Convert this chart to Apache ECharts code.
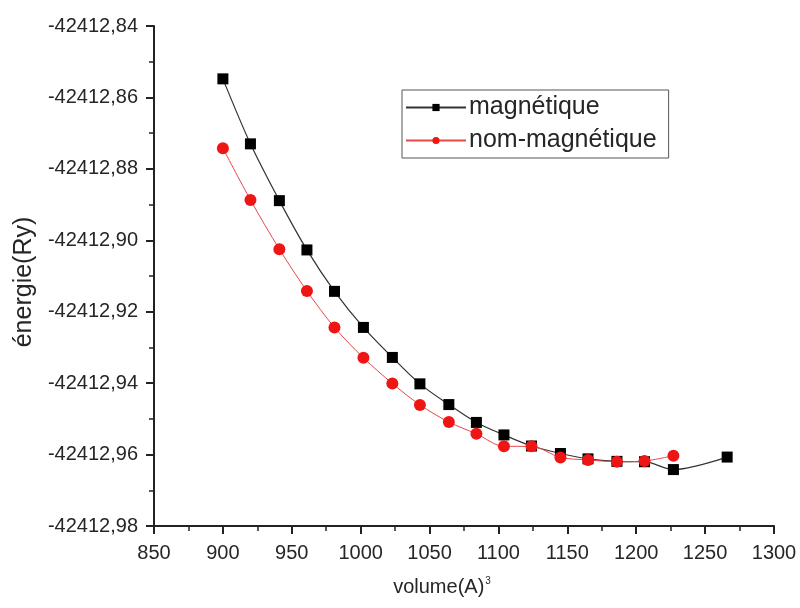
<!DOCTYPE html>
<html>
<head>
<meta charset="utf-8">
<script src="https://cdn.jsdelivr.net/npm/echarts@6/dist/echarts.min.js"></script>
<style>
  html, body { margin: 0; padding: 0; background: #fff; }
  #chart { width: 800px; height: 608px; }
</style>
</head>
<body>
<div id="chart"></div>
<script>
// Volume of the cell (Å^3) for each computed point
const volumes = [900, 920, 941, 961, 981, 1002, 1023, 1043, 1064, 1084, 1104, 1124, 1145, 1165, 1186, 1206, 1227, 1266];

// Total energy (Ry), magnetic configuration
const energyMagnetic = [
  -42412.8548, -42412.8730, -42412.8889, -42412.9027, -42412.9143, -42412.9244,
  -42412.9328, -42412.9402, -42412.9460, -42412.9510, -42412.9545, -42412.9576,
  -42412.9597, -42412.9612, -42412.9619, -42412.9620, -42412.9642, -42412.9607
];

// Total energy (Ry), non-magnetic configuration (up to 1227 Å^3)
const energyNonMagnetic = [
  -42412.8742, -42412.8887, -42412.9025, -42412.9142, -42412.9244, -42412.9329,
  -42412.9401, -42412.9461, -42412.9509, -42412.9542, -42412.9577, -42412.9577,
  -42412.9608, -42412.9615, -42412.9620, -42412.9618, -42412.9603
];

const seriesNames = ['magnétique', 'nom-magnétique'];

const xMin = 850, xMax = 1300, xStep = 50;
const yMin = -42412.98, yMax = -42412.84, yStep = 0.02;

const pairs = (xs, ys) => ys.map((y, i) => [xs[i], y]);

const axisColor = '#222';
const labelFont = { fontFamily: 'Liberation Sans', fontSize: 20, color: '#262626' };

const chart = echarts.init(document.getElementById('chart'), null, { renderer: 'canvas' });

chart.setOption({
  animation: false,
  backgroundColor: '#fff',
  grid: { left: 154, right: 26, top: 26, bottom: 82 },
  legend: {
    orient: 'vertical',
    left: 402,
    top: 90,
    padding: [5, 12, 5, 3],
    itemGap: 8,
    itemWidth: 60,
    itemHeight: 9,
    borderColor: '#555',
    borderWidth: 1,
    textStyle: { fontFamily: 'Liberation Sans', fontSize: 25, color: '#262626', padding: [0, 0, 0, -2] },
    data: seriesNames
  },
  xAxis: {
    type: 'value',
    min: xMin,
    max: xMax,
    interval: xStep,
    name: 'volume(A){sup|3}',
    nameLocation: 'middle',
    nameGap: 50,
    nameTextStyle: {
      fontFamily: 'Liberation Sans',
      fontSize: 20,
      color: '#262626',
      padding: [0, 44, 0, 0],
      rich: { sup: { fontSize: 10, verticalAlign: 'top', padding: [0, 0, 12, 1], color: '#262626' } }
    },
    axisLine: { show: true, onZero: false, lineStyle: { color: axisColor, width: 2 } },
    axisTick: { show: true, inside: false, length: 8, lineStyle: { color: axisColor, width: 2 } },
    minorTick: { show: true, splitNumber: 2, length: 5, lineStyle: { color: axisColor, width: 1.5 } },
    splitLine: { show: false },
    axisLabel: { margin: 17, ...labelFont, formatter: v => String(v) }
  },
  yAxis: {
    type: 'value',
    min: yMin,
    max: yMax,
    interval: yStep,
    scale: true,
    name: 'énergie(Ry)',
    nameLocation: 'middle',
    nameGap: 106,
    nameTextStyle: { fontFamily: 'Liberation Sans', fontSize: 25, color: '#262626', padding: [0, 12, 0, 0] },
    axisLine: { show: true, onZero: false, lineStyle: { color: axisColor, width: 2 } },
    axisTick: { show: true, inside: false, length: 8, lineStyle: { color: axisColor, width: 2 } },
    minorTick: { show: true, splitNumber: 2, length: 5, lineStyle: { color: axisColor, width: 1.5 } },
    splitLine: { show: false },
    axisLabel: {
      margin: 16,
      ...labelFont,
      formatter: v => v.toFixed(2).replace('.', ',')
    }
  },
  series: [
    {
      name: seriesNames[0],
      type: 'line',
      data: pairs(volumes, energyMagnetic),
      smooth: 0.3,
      symbol: 'rect',
      symbolSize: 11,
      itemStyle: { color: '#000' },
      lineStyle: { color: '#333', width: 1.2 }
    },
    {
      name: seriesNames[1],
      type: 'line',
      data: pairs(volumes, energyNonMagnetic),
      smooth: 0.3,
      symbol: 'circle',
      symbolSize: 12,
      itemStyle: { color: '#ee1515' },
      lineStyle: { color: '#e64848', width: 1 }
    }
  ]
});
</script>
</body>
</html>
